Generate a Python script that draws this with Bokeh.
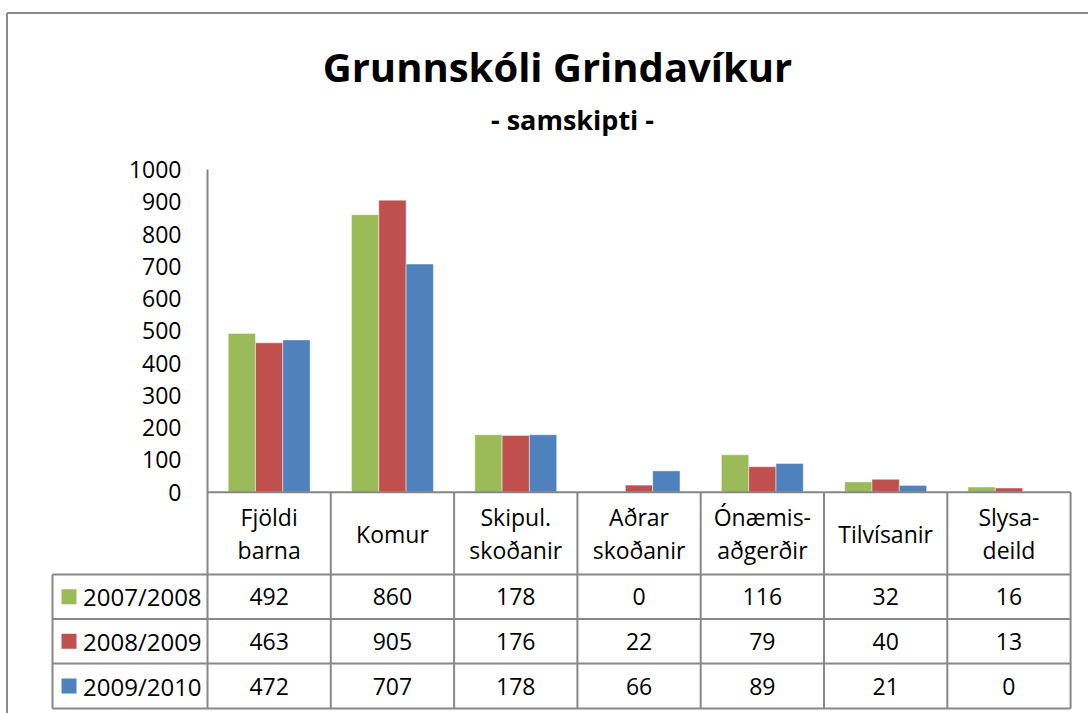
from bokeh.plotting import figure
from bokeh.models import Range1d
from bokeh.core.properties import value
from bokeh.embed import file_html
from bokeh.resources import INLINE

# ---------------- data ----------------
categories = ["Fjöldi\nbarna", "Komur", "Skipul.\nskoðanir", "Aðrar\nskoðanir",
              "Ónæmis-\naðgerðir", "Tilvísanir", "Slysa-\ndeild"]
series_names = ["2007/2008", "2008/2009", "2009/2010"]
v_2007_2008 = [492, 860, 178, 0, 116, 32, 16]
v_2008_2009 = [463, 905, 176, 22, 79, 40, 13]
v_2009_2010 = [472, 707, 178, 66, 89, 21, 0]
y_ticks = [0, 100, 200, 300, 400, 500, 600, 700, 800, 900, 1000]
title_text = "Grunnskóli Grindavíkur"
subtitle_text = "- samskipti -"
colors = ["#9BBB59", "#C0504D", "#4F81BD"]

series = [v_2007_2008, v_2008_2009, v_2009_2010]

# ---------------- layout ----------------
W, H = 1088, 713
OFF = 0
AXIS_PX = 207.0
COL_PX = 123.3
ZERO_PY = 491.7
PX_PER_UNIT = 0.3227
BARW = 0.2214
FONT = value("Open Sans")
LINE = "#888888"


def X(px):
    return (px - AXIS_PX) / COL_PX


def Y(py):
    return (ZERO_PY - py) / PX_PER_UNIT


p = figure(width=W, height=H,
           x_range=Range1d(X(OFF), X(OFF + W)),
           y_range=Range1d(Y(OFF + H), Y(OFF)),
           x_axis_location=None, y_axis_location=None,
           output_backend="svg", toolbar_location=None, min_border=0)
p.grid.visible = False
p.outline_line_color = None
p.background_fill_color = "white"
p.border_fill_color = "white"

n = len(categories)

# outer chart border (left and top)
p.segment(x0=[X(6.5), X(6.5)], y0=[Y(12.5), Y(12.5)], x1=[X(6.5), X(OFF + W)],
          y1=[Y(OFF + H), Y(12.5)], line_color="#8a8a8a", line_width=2)

# title
p.text(x=[X(557)], y=[Y(66)], text=[title_text], text_align="center",
       text_baseline="middle", text_font=FONT, text_font_style="bold",
       text_font_size="40px", text_color="black")
p.text(x=[X(572)], y=[Y(119)], text=[subtitle_text], text_align="center",
       text_baseline="middle", text_font=FONT, text_font_style="bold",
       text_font_size="27px", text_color="black")

# bars
for i, vals in enumerate(series):
    xs = [k + 0.5 + (i - 1) * BARW for k in range(n)]
    p.vbar(x=xs, top=vals, bottom=0, width=BARW, fill_color=colors[i],
           line_color="white", line_alpha=0.45, line_width=1)

# axes lines
p.segment(x0=[0], y0=[0], x1=[0], y1=[y_ticks[-1]], line_color="#868686", line_width=2)
p.segment(x0=[0], y0=[0], x1=[n], y1=[0], line_color="#868686", line_width=2)

# y tick labels
p.text(x=[X(181)] * len(y_ticks), y=y_ticks, text=[str(t) for t in y_ticks],
       text_align="right", text_baseline="middle", text_font=FONT,
       text_font_size="23px", text_color="black")

# data table
row_edges = [492.0, 574.0, 618.5, 663.0, 708.0]
tbl_left = 52.0
hx0, hy0, hx1, hy1 = [], [], [], []
for e in row_edges[1:]:
    hx0.append(X(tbl_left)); hx1.append(n); hy0.append(Y(e)); hy1.append(Y(e))
p.segment(x0=hx0, y0=hy0, x1=hx1, y1=hy1, line_color=LINE, line_width=2)
vx = list(range(n + 1))
p.segment(x0=vx, y0=[0] * len(vx), x1=vx, y1=[Y(row_edges[-1])] * len(vx),
          line_color=LINE, line_width=2)
p.segment(x0=[X(tbl_left)], y0=[Y(row_edges[1])], x1=[X(tbl_left)],
          y1=[Y(row_edges[-1])], line_color=LINE, line_width=2)

# header labels
p.text(x=[k + 0.5 for k in range(n)], y=[Y((row_edges[0] + row_edges[1]) / 2)] * n,
       text=categories, text_align="center", text_baseline="middle",
       text_font=FONT, text_font_size="23px", text_line_height=1.02,
       text_color="black")

# rows
for i, vals in enumerate(series):
    yc = Y((row_edges[i + 1] + row_edges[i + 2]) / 2)
    p.text(x=[k + 0.5 for k in range(n)], y=[yc] * n, text=[str(v) for v in vals],
           text_align="center", text_baseline="middle", text_font=FONT,
           text_font_size="23px", text_color="black")
    p.scatter(x=[X(68.5)], y=[yc], marker="square", size=15,
              fill_color=colors[i], line_color=None)
    p.text(x=[X(82.5)], y=[yc], text=[series_names[i]], text_align="left",
           text_baseline="middle", text_font=FONT, text_font_size="24px",
           text_color="black")

open("out.html", "w").write(file_html(p, INLINE))
